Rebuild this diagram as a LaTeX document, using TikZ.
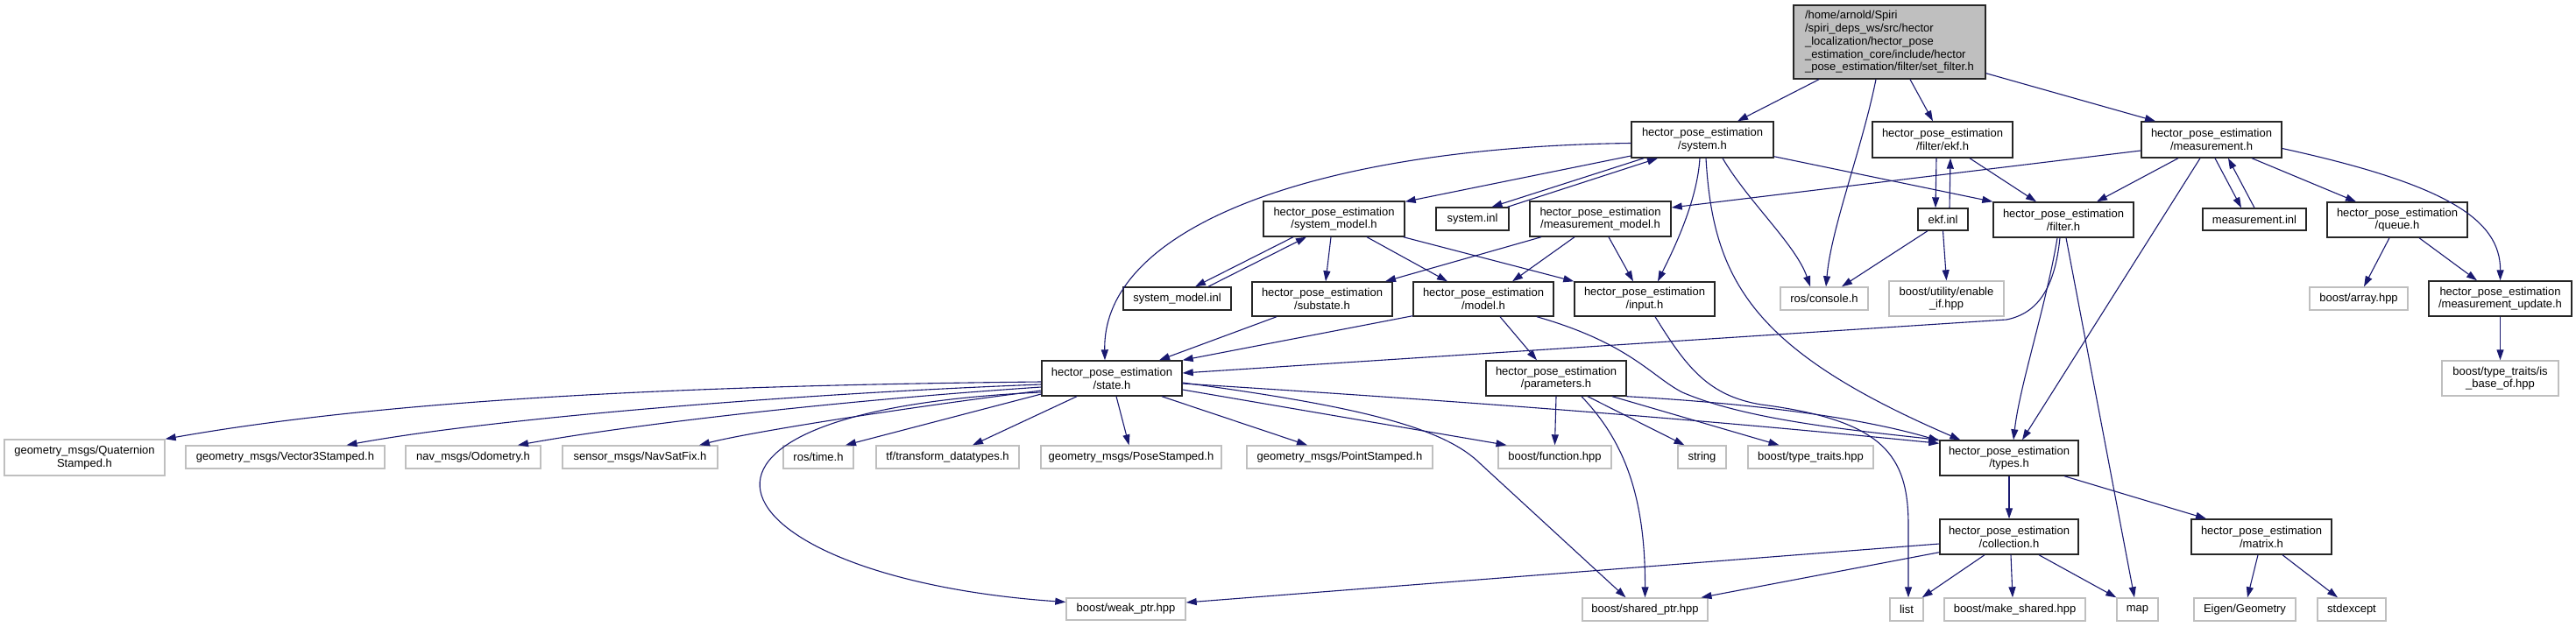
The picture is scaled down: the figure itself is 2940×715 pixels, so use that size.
\documentclass[tikz,border=0pt]{standalone}
\usepackage{fontspec}
\setmainfont{Liberation Sans}
\usetikzlibrary{arrows.meta,calc}
\definecolor{edgec}{HTML}{191970}
\definecolor{extc}{HTML}{BFBFBF}
\definecolor{rootc}{HTML}{BFBFBF}
\newcommand\gnode[7]{%
  \node[#1, minimum width={(#4-#3)*1pt}, minimum height={(#6-#5)*1pt}] (#2) at ({(#3+#4)/2},{(#5+#6)/2}) {#7};}
\begin{document}
\begin{tikzpicture}[x=1pt,y=-1pt,
  box/.style={rectangle, inner sep=2pt, align=center, font=\fontsize{13}{14.7}\selectfont, line width=1.4pt, fill=white},
  int/.style={box, draw=black!85},
  ext/.style={box, draw=extc},
  rootbox/.style={box, draw=black!85, fill=rootc, align=left},
  e/.style={draw=edgec, line width=1.1pt, -{Triangle[length=12pt,width=8pt]}},
]
\useasboundingbox[fill=white] (0,0) rectangle (2940,715);

% ---- nodes ----
\gnode{rootbox}{root}{2047}{2266}{6}{90}{/home/arnold/Spiri\\/spiri\_deps\_ws/src/hector\\\_localization/hector\_pose\\\_estimation\_core/include/hector\\\_pose\_estimation/filter/set\_filter.h}
\gnode{int}{system}{1862}{2024}{139}{180}{hector\_pose\_estimation\\/system.h}
\gnode{int}{ekfh}{2137}{2297}{139}{180}{hector\_pose\_estimation\\/filter/ekf.h}
\gnode{int}{meas}{2444}{2604}{139}{180}{hector\_pose\_estimation\\/measurement.h}

\gnode{int}{sysmodel}{1442}{1603}{230}{270}{hector\_pose\_estimation\\/system\_model.h}
\gnode{int}{sysinl}{1639}{1722}{237}{263}{system.inl}
\gnode{int}{measmodel}{1746}{1907}{230}{270}{hector\_pose\_estimation\\/measurement\_model.h}
\gnode{int}{ekfinl}{2189}{2246}{238}{263}{ekf.inl}
\gnode{int}{filter}{2275}{2435}{231}{271}{hector\_pose\_estimation\\/filter.h}
\gnode{int}{measinl}{2514}{2632}{238}{263}{measurement.inl}
\gnode{int}{queue}{2656}{2816}{231}{271}{hector\_pose\_estimation\\/queue.h}

\gnode{int}{sysmodelinl}{1282}{1405}{328}{354}{system\_model.inl}
\gnode{int}{substate}{1429}{1589}{322}{361}{hector\_pose\_estimation\\/substate.h}
\gnode{int}{model}{1613}{1773}{322}{361}{hector\_pose\_estimation\\/model.h}
\gnode{int}{input}{1797}{1957}{322}{361}{hector\_pose\_estimation\\/input.h}
\gnode{ext}{console}{2032}{2132}{328}{354}{ros/console.h}
\gnode{ext}{enable}{2156}{2287}{321}{361}{boost/utility/enable\\\_if.hpp}
\gnode{ext}{array}{2636}{2748}{328}{354}{boost/array.hpp}
\gnode{int}{measupd}{2772}{2935}{321}{361}{hector\_pose\_estimation\\/measurement\_update.h}

\gnode{int}{state}{1189}{1349}{412}{452}{hector\_pose\_estimation\\/state.h}
\gnode{int}{params}{1696}{1856}{412}{452}{hector\_pose\_estimation\\/parameters.h}
\gnode{ext}{isbase}{2787}{2920}{412}{452}{boost/type\_traits/is\\\_base\_of.hpp}

\gnode{ext}{quat}{5}{188}{502}{543}{geometry\_msgs/Quaternion\\Stamped.h}
\gnode{ext}{vec}{212}{439}{509}{535}{geometry\_msgs/Vector3Stamped.h}
\gnode{ext}{odo}{463}{617}{509}{535}{nav\_msgs/Odometry.h}
\gnode{ext}{nav}{642}{819}{509}{535}{sensor\_msgs/NavSatFix.h}
\gnode{ext}{rtime}{894}{974}{509}{535}{ros/time.h}
\gnode{ext}{tf}{1000}{1163}{509}{535}{tf/transform\_datatypes.h}
\gnode{ext}{pose}{1188}{1394}{509}{535}{geometry\_msgs/PoseStamped.h}
\gnode{ext}{point}{1423}{1635}{509}{535}{geometry\_msgs/PointStamped.h}
\gnode{ext}{func}{1710}{1839}{509}{535}{boost/function.hpp}
\gnode{ext}{string}{1915}{1970}{509}{535}{string}
\gnode{ext}{typetraits}{1995}{2138}{509}{535}{boost/type\_traits.hpp}
\gnode{int}{types}{2214}{2372}{503}{543}{hector\_pose\_estimation\\/types.h}

\gnode{int}{collection}{2214}{2372}{593}{633}{hector\_pose\_estimation\\/collection.h}
\gnode{int}{matrix}{2501}{2661}{593}{633}{hector\_pose\_estimation\\/matrix.h}

\gnode{ext}{weak}{1217}{1353}{683}{708}{boost/weak\_ptr.hpp}
\gnode{ext}{shared}{1806}{1949}{683}{709}{boost/shared\_ptr.hpp}
\gnode{ext}{list}{2157}{2195}{683}{709}{list}
\gnode{ext}{make}{2219}{2380}{683}{709}{boost/make\_shared.hpp}
\gnode{ext}{map}{2416}{2463}{683}{709}{map}
\gnode{ext}{eigen}{2504}{2620}{683}{709}{Eigen/Geometry}
\gnode{ext}{stdexc}{2645}{2723}{683}{709}{stdexcept}

% ---- edges: root ----
\draw[e] ($(root.south)+(-80.5,0)$) -- ($(system.north)+(40,0)$);
\draw[e] ($(root.south)+(-15.5,0)$) .. controls (2125,170) and (2090,260) .. ($(console.north)+(2,0)$);
\draw[e] ($(root.south)+(23.5,0)$) -- ($(ekfh.north)+(-11,0)$);
\draw[e] ($(root.south east)+(0,-7)$) -- ($(meas.north)+(-64,0)$);

% ---- system.h ----
\draw[e] ($(system.west)+(0,4)$) .. controls (1500,168) and (1258,260) .. ($(state.north)+(-8,0)$);
\draw[e] ($(system.west)+(0,18.5)$) -- ($(sysmodel.north east)+(0,1)$);
\draw[e] ($(system.south)+(-67,0)$) -- ($(sysinl.north)+(22,0)$);
\draw[e] ($(sysinl.north)+(40,0)$) -- ($(system.south)+(-51,0)$);
\draw[e] ($(system.south east)+(0,-2)$) -- (filter.north west);
\draw[e] ($(system.south)+(-3,0)$) .. controls (1937,230) and (1910,285) .. ($(input.north)+(15,0)$);
\draw[e] ($(system.south)+(23,0)$) .. controls (1995,230) and (2050,280) .. ($(console.north)+(-16,0)$);
\draw[e] ($(system.south)+(4,0)$) .. controls (1955,320) and (2000,400) .. ($(types.north west)+(24,0)$);

% ---- ekf ----
\draw[e] ($(ekfh.south)+(-7,0)$) -- ($(ekfinl.north)+(-8.5,0)$);
\draw[e] ($(ekfinl.north)+(7.5,0)$) -- ($(ekfh.south)+(9,0)$);
\draw[e] ($(ekfh.south)+(31,0)$) -- ($(filter.north)+(-31,0)$);
\draw[e] ($(ekfinl.south)+(-17.5,0)$) -- ($(console.north)+(20,0)$);
\draw[e] (ekfinl.south) -- (enable.north);

% ---- measurement.h ----
\draw[e] ($(meas.west)+(0,12.5)$) -- ($(measmodel.east)+(0,-13)$);
\draw[e] ($(meas.south)+(-38,0)$) -- ($(filter.north)+(38,0)$);
\draw[e] ($(meas.south)+(-13,0)$) -- ($(types.north)+(15,0)$);
\draw[e] ($(meas.south)+(4,0)$) -- ($(measinl.north)+(-15,0)$);
\draw[e] (measinl.north) -- ($(meas.south)+(19,0)$);
\draw[e] ($(meas.south)+(46,0)$) -- ($(queue.north)+(-47,0)$);
\draw[e] ($(meas.east)+(0,10)$) .. controls (2790,210) and (2854,250) .. (measupd.north);

% ---- filter.h ----
\draw[e] ($(filter.south)+(-4,0)$) .. controls (2345,330) and (2325,358) .. (2290,365) -- ($(state.east)+(0,-6)$);
\draw[e] ($(filter.south)+(-7,0)$) .. controls (2335,350) and (2305,440) .. ($(types.north)+(5,0)$);
\draw[e] ($(filter.south)+(3,0)$) -- ($(map.north)+(-3.5,0)$);

% ---- queue / update ----
\draw[e] ($(queue.south)+(-9,0)$) -- ($(array.north)+(6,0)$);
\draw[e] ($(queue.south)+(25,0)$) -- ($(measupd.north)+(-26.5,0)$);
\draw[e] (measupd.south) -- (isbase.north);

% ---- system_model.h ----
\draw[e] ($(sysmodel.south)+(-46.5,0)$) -- ($(sysmodelinl.north)+(20.5,0)$);
\draw[e] ($(sysmodelinl.north)+(35.5,0)$) -- ($(sysmodel.south)+(-31.5,0)$);
\draw[e] ($(sysmodel.south)+(-3.5,0)$) -- ($(substate.north)+(4,0)$);
\draw[e] ($(sysmodel.south)+(37.5,0)$) -- ($(model.north)+(-41,0)$);
\draw[e] ($(sysmodel.south east)+(-2,0)$) -- (input.north west);

% ---- measurement_model.h ----
\draw[e] ($(measmodel.south)+(-67.5,0)$) -- ($(substate.north)+(72,0)$);
\draw[e] ($(measmodel.south)+(-29.5,0)$) -- ($(model.north)+(33,0)$);
\draw[e] ($(measmodel.south)+(9.5,0)$) -- ($(input.north)+(-13,0)$);

% ---- substate / model / input ----
\draw[e] ($(substate.south)+(-52,0)$) -- ($(state.north)+(54,0)$);
\draw[e] ($(model.south west)+(0,-1)$) -- (state.north east);
\draw[e] ($(model.south)+(19,0)$) -- ($(params.north)+(-22,0)$);
\draw[e] ($(model.south)+(61,0)$) .. controls (1860,392) and (1885,430) .. (1920,448) .. controls (1990,478) and (2100,490) .. (types.north west);
\draw[e] ($(input.south)+(12,0)$) .. controls (1925,420) and (1950,452) .. (2010,462) .. controls (2150,480) and (2178,520) .. (2178,600) -- ($(list.north)+(2,0)$);

% ---- parameters.h ----
\draw[e] (params.south) -- (func.north);
\draw[e] ($(params.south)+(29,0)$) .. controls (1850,500) and (1878,560) .. (shared.north);
\draw[e] ($(params.south)+(36,0)$) -- ($(string.north)+(-20,0)$);
\draw[e] ($(params.south)+(64,0)$) -- ($(typetraits.north)+(-36,0)$);
\draw[e] (params.south east) .. controls (1950,458) and (2100,470) .. ($(types.north west)+(0,1)$);

% ---- state.h ----
\draw[e] ($(state.west)+(0,4)$) .. controls (800,440) and (450,455) .. (quat.north east);
\draw[e] ($(state.west)+(0,7)$) .. controls (900,450) and (560,478) .. ($(vec.north)+(70,0)$);
\draw[e] ($(state.west)+(0,10)$) .. controls (950,458) and (720,485) .. ($(odo.north)+(51,0)$);
\draw[e] ($(state.west)+(0,14)$) .. controls (1000,470) and (850,495) .. ($(nav.north)+(67.5,0)$);
\draw[e] ($(state.west)+(0,18)$) -- ($(rtime.north)+(31,0)$);
\draw[e] ($(state.south)+(-40,0)$) -- ($(tf.north)+(28.5,0)$);
\draw[e] ($(state.south)+(5,0)$) -- ($(pose.north)+(-2.5,0)$);
\draw[e] ($(state.south)+(57,0)$) -- ($(point.north)+(-37,0)$);
\draw[e] ($(state.east)+(0,13)$) -- ($(func.north)+(-55,0)$);
\draw[e] ($(state.west)+(0,16)$) .. controls (700,470) and (820,660) .. ($(weak.west)+(0,-8)$);
\draw[e] ($(state.east)+(0,5)$) .. controls (1560,465) and (1650,490) .. (1690,530) -- ($(shared.north)+(-22,0)$);
\draw[e] ($(state.east)+(0,6)$) .. controls (1700,460) and (1950,480) .. ($(types.north west)+(0,4)$);

% ---- types / collection / matrix ----
\draw[e] (types.south) -- (collection.north);
\draw[e] ($(types.south)+(63,0)$) -- ($(matrix.north)+(-63,0)$);
\draw[e] ($(collection.west)+(0,8)$) -- ($(weak.east)+(0,-7.5)$);
\draw[e] ($(collection.south west)+(0,-3)$) -- ($(shared.north)+(64,0)$);
\draw[e] ($(collection.south)+(-28,0)$) -- ($(list.north east)+(-2,0)$);
\draw[e] ($(collection.south)+(2,0)$) -- ($(make.north)+(-2.5,0)$);
\draw[e] ($(collection.south)+(34,0)$) -- (map.north west);
\draw[e] ($(matrix.south)+(-4,0)$) -- ($(eigen.north)+(3,0)$);
\draw[e] ($(matrix.south)+(24,0)$) -- ($(stdexc.north)+(-16,0)$);
\end{tikzpicture}
\end{document}
